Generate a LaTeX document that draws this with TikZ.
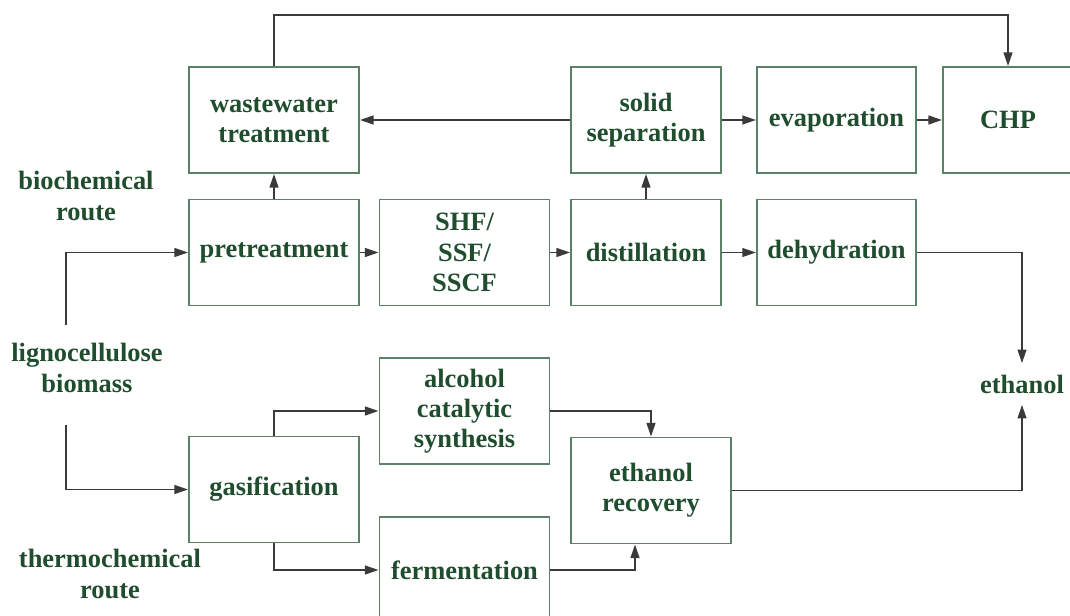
\documentclass[tikz,border=0pt]{standalone}
\usepackage{fontspec}
\setmainfont{Liberation Serif}
\usetikzlibrary{arrows.meta, positioning}
\definecolor{routegreen}{HTML}{1F4D2E}
\definecolor{boxgreen}{HTML}{5B8266}
\definecolor{linegray}{HTML}{3A3A3A}

\begin{document}
\begin{tikzpicture}[
    x=0.025cm, y=-0.025cm,
    every node/.style={font=\fontsize{18.8}{21.5}\selectfont\bfseries, text=routegreen, align=center},
    process/.style={rectangle, draw=boxgreen, line width=1.3pt, minimum width=4.25cm, minimum height=2.65cm, inner sep=2pt},
    narrow/.style={process, minimum width=3.75cm},
    middle/.style={process, minimum width=3.98cm},
    route/.style={inner sep=2pt},
    arrow/.style={-{Triangle[length=3.4mm, width=2.2mm]}, draw=linegray, line width=1.2pt}
]
\useasboundingbox (0,0) rectangle (1070,616);

% Top row - by-products
\node[process] (ww) at (274,120) {wastewater\\treatment};
\node[narrow] (sol) at (646,120) {solid\\separation};
\node[middle] (evap) at (836.5,120) {evaporation};
\node[process, minimum width=3.25cm] (chp) at (1008,120) {CHP};

% Biochemical route
\node[process] (pre) at (274,252.5) {pretreatment};
\node[process] (shf) at (464.5,252.5) {SHF/\\SSF/\\SSCF};
\node[narrow] (dist) at (646,252.5) {distillation};
\node[middle] (dehy) at (836.5,252.5) {dehydration};

% Thermochemical route
\node[process] (alc) at (464.5,411) {alcohol\\catalytic\\synthesis};
\node[process] (gas) at (274,489.5) {gasification};
\node[process, minimum width=4cm] (rec) at (651,490.5) {ethanol\\recovery};
\node[process] (ferm) at (464.5,570) {fermentation};

% Free labels
\node[route] (bio) at (86,196) {biochemical\\route};
\node[route] (ligno) at (87,368) {lignocellulose\\biomass};
\node[route] (thermo) at (110,574) {thermochemical\\route};
\node[route, inner sep=8pt] (eth) at (1022,384) {ethanol};
\coordinate (lgtop) at (66,325);
\coordinate (lgbot) at (66,425);

% Arrows
\draw[arrow] (ww.north) -- (274,15) -| (chp.north);
\draw[arrow] (sol) -- (ww);
\draw[arrow] (sol) -- (evap);
\draw[arrow] (evap) -- (chp);
\draw[arrow] (pre) -- (ww);
\draw[arrow] (pre) -- (shf);
\draw[arrow] (shf) -- (dist);
\draw[arrow] (dist) -- (dehy);
\draw[arrow] (dist) -- (sol);
\draw[arrow] (dehy.east) -| (eth.north);
\draw[arrow] (lgtop) |- (pre.west);
\draw[arrow] (lgbot) |- (gas.west);
\draw[arrow] (gas.north) |- (alc.west);
\draw[arrow] (gas.south) |- (ferm.west);
\draw[arrow] (alc.east) -| (rec.north);
\draw[arrow] (ferm.east) -| ([xshift=-4mm]rec.south);
\draw[arrow] (rec.east) -| (eth.south);

\end{tikzpicture}
\end{document}
